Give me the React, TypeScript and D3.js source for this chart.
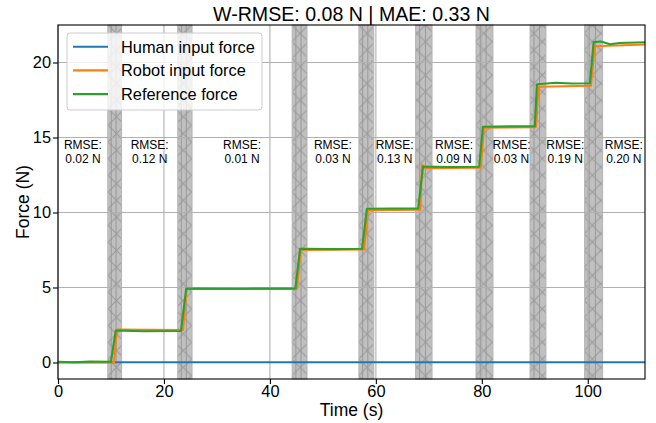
import React, { useEffect, useRef } from 'react';
import * as d3 from 'd3';

// time axis ticks and force ticks
const xTicks = [0, 20, 40, 60, 80, 100];
const yTicks = [0, 5, 10, 15, 20];
const timeMax = 110.8;

// shaded transition windows (s)
const bandStart = [9.4, 22.6, 44.2, 56.8, 67.5, 78.9, 89.1, 99.4];
const bandEnd = [12.0, 25.3, 47.0, 59.6, 70.6, 82.1, 92.1, 102.8];

// RMSE per segment
const rmseLabels = ['0.02 N', '0.12 N', '0.01 N', '0.03 N', '0.13 N', '0.09 N', '0.03 N', '0.19 N', '0.20 N'];

// human input force
const humanTime = [0, 30, 60, 90, 110.8];
const humanForce = [0.02, 0.02, 0.02, 0.02, 0.02];

// robot input force
const robotTime = [0, 10.6, 11.1, 23.6, 24.3, 45.1, 45.8, 57.8, 58.5, 68.4, 68.7, 69.1, 79.8, 80.4, 90.2, 90.7, 100.6, 101.3, 110.8];
const robotForce = [0, 0, 2.19, 2.17, 4.9, 4.9, 7.5, 7.53, 10.15, 10.18, 13.2, 12.96, 12.99, 15.66, 15.68, 18.38, 18.45, 21.08, 21.2];

// reference force
const refTime = [0, 3, 6, 10.0, 10.9, 16, 23.2, 24.2, 35, 44.8, 45.7, 52, 57.4, 58.3, 63, 68.0, 68.9, 74, 79.5, 80.2, 85, 90.0, 90.4, 94, 97, 100.4, 101.1, 102.5, 104.2, 106, 110.8];
const refForce = [0.05, 0.02, 0.06, 0.05, 2.13, 2.08, 2.1, 4.93, 4.92, 4.93, 7.58, 7.56, 7.58, 10.25, 10.27, 10.27, 13.07, 13.03, 13.05, 15.72, 15.74, 15.75, 18.55, 18.65, 18.6, 18.62, 21.36, 21.4, 21.22, 21.3, 21.35];

const series = [
  { name: 'Human input force', color: '#1f77b4', time: humanTime, force: humanForce },
  { name: 'Robot input force', color: '#ff7f0e', time: robotTime, force: robotForce },
  { name: 'Reference force', color: '#2ca02c', time: refTime, force: refForce },
];

const FONT = '"Liberation Sans", Arial, Helvetica, sans-serif';

const App = () => {
  const ref = useRef(null);

  useEffect(() => {
    const svg = d3.select(ref.current);
    svg.selectAll('*').remove();

    const W = 656;
    const H = 423;
    const margin = { top: 25, right: 11, bottom: 44, left: 58 };
    const width = W - margin.left - margin.right;
    const height = H - margin.top - margin.bottom;

    const x = d3.scaleLinear().domain([0, timeMax]).range([0, width]);
    const y = d3.scaleLinear().domain([-1.1, 22.5]).range([height, 0]);

    svg.attr('width', W).attr('height', H).style('font-family', FONT);

    const defs = svg.append('defs');
    const pat = defs.append('pattern')
      .attr('id', 'xhatch')
      .attr('patternUnits', 'userSpaceOnUse')
      .attr('width', 16.7)
      .attr('height', 16.7);
    pat.append('rect').attr('width', 16.7).attr('height', 16.7).attr('fill', '#c0c0c0');
    pat.append('path')
      .attr('d', 'M0,0L16.7,16.7M0,16.7L16.7,0M-2,2L2,-2M14.7,18.7L18.7,14.7')
      .attr('stroke', '#999')
      .attr('stroke-width', 1);

    defs.append('clipPath').attr('id', 'plotclip')
      .append('rect').attr('width', width).attr('height', height);

    const g = svg.append('g').attr('transform', `translate(${margin.left},${margin.top})`);

    // bands
    const bands = g.append('g');
    bandStart.forEach((s, i) => {
      const x0 = x(s);
      const x1 = x(bandEnd[i]);
      bands.append('rect')
        .attr('x', x0).attr('y', 0)
        .attr('width', x1 - x0).attr('height', height)
        .attr('fill', 'url(#xhatch)')
        .attr('stroke', '#b4b4b4')
        .attr('stroke-width', 1);
      [0.25, 0.6].forEach(f => {
        const xx = x0 + (x1 - x0) * f;
        bands.append('line')
          .attr('x1', xx).attr('x2', xx).attr('y1', 0).attr('y2', height)
          .attr('stroke', '#999').attr('stroke-width', 1);
      });
    });

    // grid
    g.append('g').selectAll('line').data(xTicks).enter().append('line')
      .attr('x1', d => x(d)).attr('x2', d => x(d)).attr('y1', 0).attr('y2', height)
      .attr('stroke', '#b0b0b0').attr('stroke-width', 1.1);
    g.append('g').selectAll('line').data(yTicks).enter().append('line')
      .attr('y1', d => y(d)).attr('y2', d => y(d)).attr('x1', 0).attr('x2', width)
      .attr('stroke', '#b0b0b0').attr('stroke-width', 1.1);

    // RMSE labels centred between bands
    const edges = [0, ...bandStart.flatMap((s, i) => [s, bandEnd[i]]), timeMax];
    rmseLabels.forEach((lab, i) => {
      const cx = x((edges[2 * i] + edges[2 * i + 1]) / 2);
      const t = g.append('text')
        .attr('x', cx).attr('text-anchor', 'middle')
        .style('font-size', '12px').attr('fill', '#000');
      t.append('tspan').attr('x', cx).attr('y', 124).text('RMSE:');
      t.append('tspan').attr('x', cx).attr('y', 138).text(lab);
    });

    // lines
    const line = d3.line().x(d => x(d[0])).y(d => y(d[1]));
    const lines = g.append('g').attr('clip-path', 'url(#plotclip)');
    series.forEach(s => {
      lines.append('path')
        .datum(s.time.map((t, i) => [t, s.force[i]]))
        .attr('d', line)
        .attr('fill', 'none')
        .attr('stroke', s.color)
        .attr('stroke-width', 2.1)
        .attr('stroke-linejoin', 'round');
    });

    // axes
    const xAxis = g.append('g')
      .attr('transform', `translate(0,${height})`)
      .call(d3.axisBottom(x).tickValues(xTicks).tickSize(5).tickPadding(1).tickFormat(d3.format('d')));
    const yAxis = g.append('g')
      .call(d3.axisLeft(y).tickValues(yTicks).tickSize(5).tickPadding(2).tickFormat(d3.format('d')));
    [xAxis, yAxis].forEach(a => {
      a.select('.domain').remove();
      a.selectAll('line').attr('stroke', '#000').attr('stroke-width', 1.1);
      a.selectAll('text').style('font-size', '16.4px').style('font-family', FONT).attr('fill', '#000');
    });

    g.append('rect')
      .attr('width', width).attr('height', height)
      .attr('fill', 'none').attr('stroke', '#000').attr('stroke-width', 1.1);

    // axis labels & title
    svg.append('text')
      .attr('x', margin.left + width / 2).attr('y', 416)
      .attr('text-anchor', 'middle').style('font-size', '17.5px')
      .text('Time (s)');
    svg.append('text')
      .attr('transform', `translate(29,${margin.top + height / 2}) rotate(-90)`)
      .attr('text-anchor', 'middle').style('font-size', '17.5px')
      .text('Force (N)');
    svg.append('text')
      .attr('x', margin.left + width / 2).attr('y', 21)
      .attr('text-anchor', 'middle').style('font-size', '19.6px')
      .text('W-RMSE: 0.08 N | MAE: 0.33 N');

    // legend
    const leg = svg.append('g').attr('transform', 'translate(67,33)');
    leg.append('rect')
      .attr('width', 195).attr('height', 77).attr('rx', 3)
      .attr('fill', '#fff').attr('fill-opacity', 0.8)
      .attr('stroke', '#ccc').attr('stroke-width', 1);
    series.forEach((s, i) => {
      const yy = 13.7 + i * 23.7;
      leg.append('line')
        .attr('x1', 6).attr('x2', 41).attr('y1', yy).attr('y2', yy)
        .attr('stroke', s.color).attr('stroke-width', 2.1);
      leg.append('text')
        .attr('x', 54).attr('y', yy + 6)
        .style('font-size', '16.4px')
        .text(s.name);
    });
  }, []);

  return (
    <svg ref={ref} style={{ position: 'absolute', left: 0, top: 0 }}></svg>
  );
};

export default App;
